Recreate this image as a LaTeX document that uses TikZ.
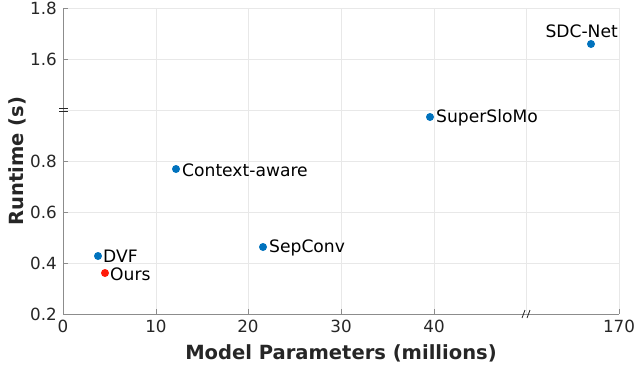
\documentclass[tikz,border=0pt]{standalone}
\usepackage{fontspec}
\setmainfont{DejaVu Sans}
\definecolor{mblue}{HTML}{0072BD}
\definecolor{mred}{HTML}{FF1A0A}
\definecolor{gridc}{HTML}{E8E8E8}
\definecolor{axc}{HTML}{8C8C8C}
\definecolor{txtc}{HTML}{262626}
\begin{document}
\begin{tikzpicture}[x=1bp,y=-1bp,
  gridline/.style={draw=gridc,line width=0.6bp},
  axisline/.style={draw=axc,line width=0.9bp},
  ticklab/.style={text=txtc,font=\fontsize{16.8}{16.8}\selectfont,inner sep=0pt},
  ptlab/.style={text=black,font=\fontsize{17.2}{17.2}\selectfont,inner sep=0pt},
  axlab/.style={text=txtc,font=\fontsize{19.6}{19.6}\selectfont\bfseries,inner sep=0pt},
  bdot/.style={circle,fill=mblue,inner sep=0pt,minimum size=8bp},
  rdot/.style={circle,fill=mred,inner sep=0pt,minimum size=8bp}]
\useasboundingbox (0,0) rectangle (638,368);
% grid
\foreach \x in {156,248,341,434,526,619} \draw[gridline] (\x,8) -- (\x,314);
\foreach \y in {8,59,110,161,212,263} \draw[gridline] (63,\y) -- (619,\y);
% axes
\coordinate (o) at (63,314);
\coordinate (yt) at (63,8);
\coordinate (xr) at (619,314);
\draw[axisline] (yt) -- (o) -- (xr);
% ticks
\foreach \x in {156,248,341,434,619} \draw[axisline] (\x,314) -- (\x,309);
\foreach \y in {8,59,161,212,263} \draw[axisline] (63,\y) -- (68,\y);
% breaks
\draw[draw=txtc,line width=0.9bp] (59,108.5) -- (68,108.5) (59,111.5) -- (68,111.5);
\draw[draw=txtc,line width=0.8bp] (522,318) -- (525,310) (527,318) -- (530,310);
% tick labels
\foreach \x/\t in {63/0,156/10,248/20,341/30,434/40,619/170}
  \node[ticklab,anchor=north] at (\x,320) {\t};
\foreach \y/\t in {8/1.8,59/1.6,161/0.8,212/0.6,263/0.4,314/0.2}
  \node[ticklab,anchor=east] at (57,\y) {\t};
% axis labels
\node[axlab] (xl) at (341,353) {Model Parameters (millions)};
\node[axlab,rotate=90] (yl) at (17,161) {Runtime (s)};
% points
\node[bdot] (dvf) at (98,256) {};
\node[rdot] (ours) at (105,273) {};
\node[bdot] (ctx) at (176,169) {};
\node[bdot] (sep) at (263,247) {};
\node[bdot] (ssm) at (430,117) {};
\node[bdot] (sdc) at (591,44) {};
\node[ptlab,anchor=west] (dvfl) at (103,256) {DVF};
\node[ptlab,anchor=west] (oursl) at (110,274) {Ours};
\node[ptlab,anchor=west] (ctxl) at (182,170) {Context-aware};
\node[ptlab,anchor=west] (sepl) at (269,248) {SepConv};
\node[ptlab,anchor=west] (ssml) at (436,118) {SuperSloMo};
\node[ptlab,anchor=east] (sdcl) at (618,31) {SDC-Net};
\end{tikzpicture}
\end{document}
